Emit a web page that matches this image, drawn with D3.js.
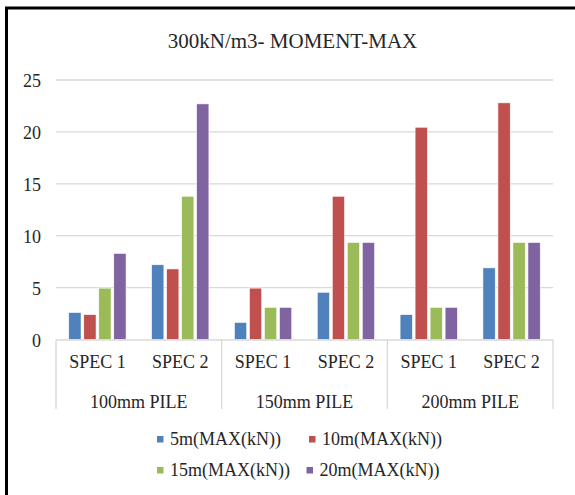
<!DOCTYPE html>
<html><head><meta charset="utf-8">
<script src="https://cdn.jsdelivr.net/npm/d3@7"></script>
<style>
body{margin:0;background:#fff;}
svg{display:block;}
text{font-family:"Liberation Serif","Times New Roman",serif;fill:#262626;}
</style></head>
<body>
<svg id="chart" width="575" height="495"></svg>
<script>
const title = "300kN/m3- MOMENT-MAX";
const groups = ["100mm PILE", "150mm PILE", "200mm PILE"];
const specs = ["SPEC 1", "SPEC 2"];
const seriesNames = ["5m(MAX(kN))", "10m(MAX(kN))", "15m(MAX(kN))", "20m(MAX(kN))"];
const seriesColors = ["#4F81BD", "#C0504D", "#9BBB59", "#8064A2"];
// values per series, ordered: 100 S1, 100 S2, 150 S1, 150 S2, 200 S1, 200 S2
const s5m  = [2.6, 7.2, 1.65, 4.55, 2.4, 6.9];
const s10m = [2.4, 6.8, 4.95, 13.8, 20.45, 22.8];
const s15m = [4.95, 13.8, 3.1, 9.35, 3.1, 9.35];
const s20m = [8.3, 22.7, 3.1, 9.35, 3.1, 9.35];
const yTicks = [0, 5, 10, 15, 20, 25];

const seriesValues = [s5m, s10m, s15m, s20m];
const cats = [];
groups.forEach(g => specs.forEach(s => cats.push({g, s, key: g + "|" + s})));

const svg = d3.select("#chart");
const pLeft = 56, pRight = 553, pTop = 80, pBottom = 339.5;
const FONT = "'Liberation Serif','Times New Roman',serif";

// frame
svg.append("rect").attr("x", 6.5).attr("y", 8).attr("width", 600).attr("height", 600)
  .attr("fill", "none").attr("stroke", "#000").attr("stroke-width", 3);

// title
svg.append("text").attr("x", 292.5).attr("y", 48).attr("text-anchor", "middle")
  .style("font-size", "21px").text(title);

const y = d3.scaleLinear().domain([0, 25]).range([pBottom, pTop]);
const x0 = d3.scaleBand().domain(cats.map(c => c.key)).range([pLeft, pRight]).padding(0);
const x1 = d3.scaleBand().domain(seriesNames).range([0, x0.bandwidth()])
  .paddingInner(0.18).paddingOuter(0.85);
const xg = d3.scaleBand().domain(groups).range([pLeft, pRight]).padding(0);

// gridlines
svg.append("g").selectAll("line").data(yTicks.filter(t => t > 0)).join("line")
  .attr("x1", pLeft).attr("x2", pRight)
  .attr("y1", d => y(d)).attr("y2", d => y(d))
  .attr("stroke", "#D9D9D9").attr("stroke-width", 1.3);

// y axis labels
const yAxis = d3.axisLeft(y).tickValues(yTicks).tickSize(0).tickPadding(0);
const ya = svg.append("g").attr("transform", `translate(41,1)`).call(yAxis);
ya.select(".domain").remove();
ya.selectAll("text").style("font-size", "18px").attr("fill", "#262626").style("font-family", FONT);

// bars
const barG = svg.append("g");
cats.forEach((c, ci) => {
  seriesNames.forEach((sn, si) => {
    const v = seriesValues[si][ci];
    barG.append("rect")
      .attr("x", x0(c.key) + x1(sn))
      .attr("y", y(v))
      .attr("width", x1.bandwidth())
      .attr("height", y(0) - y(v))
      .attr("fill", seriesColors[si])
      .attr("stroke", "#fff").attr("stroke-width", 0.6);
  });
});

// x axis line
svg.append("line").attr("x1", pLeft).attr("x2", pRight).attr("y1", pBottom + 0.5).attr("y2", pBottom + 0.5)
  .attr("stroke", "#D9D9D9").attr("stroke-width", 1.3);

// group dividers
const divX = groups.map(g => xg(g)).concat([pRight]);
svg.append("g").selectAll("line").data(divX).join("line")
  .attr("x1", d => d).attr("x2", d => d)
  .attr("y1", pBottom).attr("y2", 409)
  .attr("stroke", "#D9D9D9").attr("stroke-width", 1.3);

// spec labels
const xAxis = d3.axisBottom(x0).tickSize(0).tickPadding(0).tickFormat(k => k.split("|")[1]);
const xa = svg.append("g").attr("transform", `translate(0,355)`).call(xAxis);
xa.select(".domain").remove();
xa.selectAll("text").style("font-size", "18px").attr("fill", "#262626").style("font-family", FONT);

// group labels
const gAxis = d3.axisBottom(xg).tickSize(0).tickPadding(0);
const ga = svg.append("g").attr("transform", `translate(0,395)`).call(gAxis);
ga.select(".domain").remove();
ga.selectAll("text").style("font-size", "18px").attr("fill", "#262626").style("font-family", FONT);

// legend
const legPos = [[157, 439], [309, 439], [157, 470], [306.5, 470]];
seriesNames.forEach((sn, i) => {
  const [lx, ly] = legPos[i];
  svg.append("rect").attr("x", lx).attr("y", ly - 3).attr("width", 6.5).attr("height", 6.5)
    .attr("fill", seriesColors[i]);
  svg.append("text").attr("x", lx + 13).attr("y", ly).attr("dy", "0.35em")
    .style("font-size", "18px").text(sn);
});
</script>
</body></html>
